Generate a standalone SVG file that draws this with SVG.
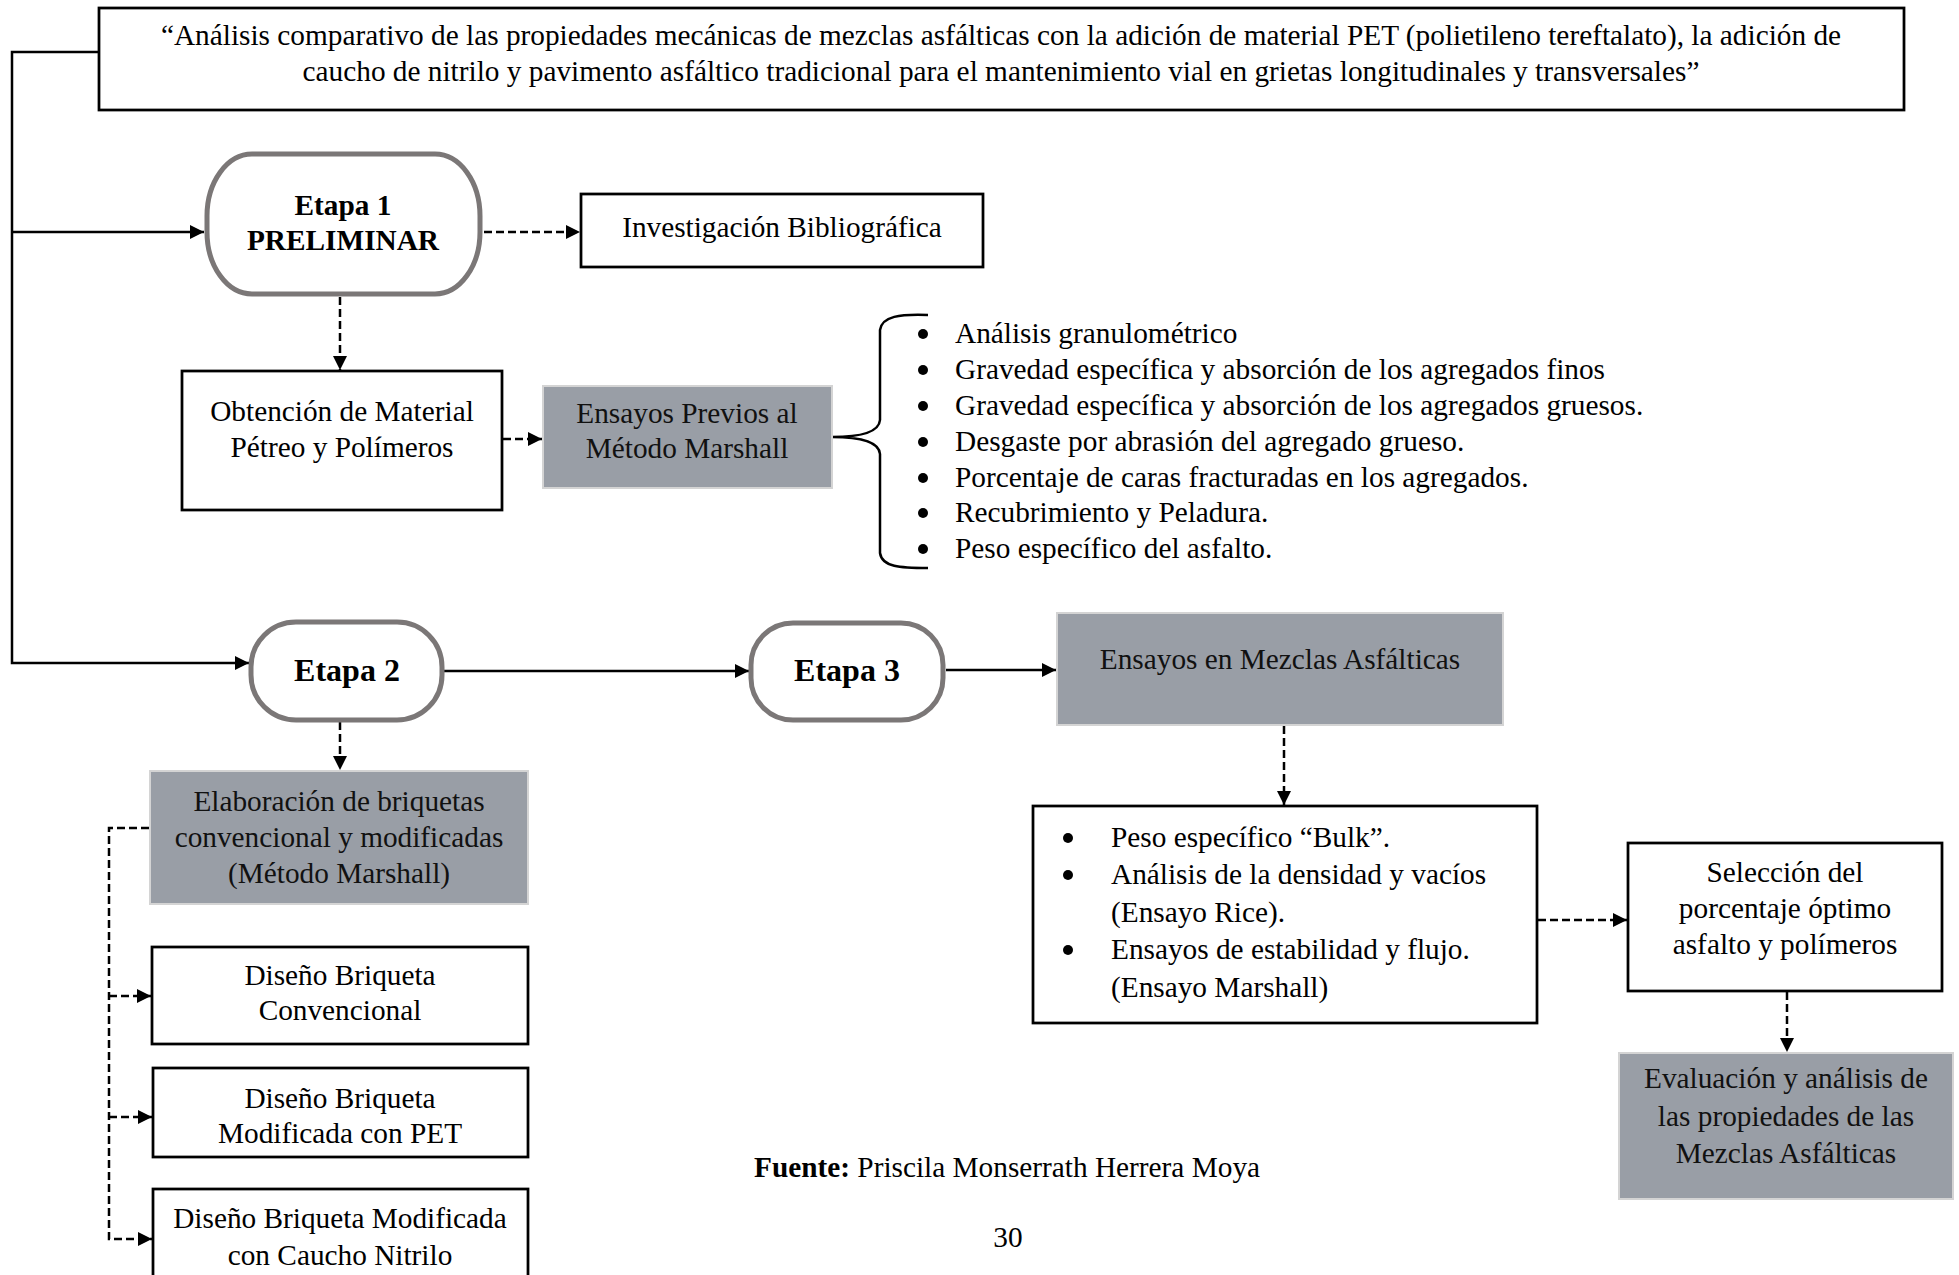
<svg xmlns="http://www.w3.org/2000/svg" width="1959" height="1275" viewBox="0 0 1959 1275">
<defs>
<style>
text{font-family:"Liberation Serif","Times New Roman",serif;font-size:29.3px;fill:#000}
.c{text-anchor:middle}
.b{font-weight:bold}
.big{font-size:32px}
.dot{fill:#000}
.box{fill:#fff;stroke:#000;stroke-width:2.75}
.gray{fill:#999ea6;stroke:#d4d4d4;stroke-width:2}
.gt{fill:#111}
.stage{fill:#fff;stroke:#7b7777;stroke-width:5}
.ln{fill:none;stroke:#000;stroke-width:2.5}
.dash{fill:none;stroke:#000;stroke-width:2.5;stroke-dasharray:8 4}
</style>
<marker id="ah" markerUnits="userSpaceOnUse" markerWidth="14" markerHeight="14" refX="14" refY="7" orient="auto">
<path d="M0,0 L14,7 L0,14 z" fill="#000"/>
</marker>
</defs>
<rect width="1959" height="1275" fill="#fff"/>

<g id="connectors">
<path class="ln" d="M99,52 H12 V663 H249" marker-end="url(#ah)"/>
<path class="ln" d="M12,232 H204" marker-end="url(#ah)"/>
<path class="dash" d="M484,232 H580" marker-end="url(#ah)"/>
<path class="dash" d="M340,297 V370" marker-end="url(#ah)"/>
<path class="dash" d="M503,439 H542" marker-end="url(#ah)"/>
<path class="ln" d="M928,315 C900,314 882,316 880,330 L880,420 C879,432 860,437 832,437 C860,437 879,442 880,454 L880,553 C882,567 900,568 928,568"/>
<path class="dash" d="M340,722 V770" marker-end="url(#ah)"/>
<path class="dash" d="M149,828 H109 V1239 H152" marker-end="url(#ah)"/>
<path class="dash" d="M109,996 H151" marker-end="url(#ah)"/>
<path class="dash" d="M109,1117 H152" marker-end="url(#ah)"/>
<path class="ln" d="M444,671 H749" marker-end="url(#ah)"/>
<path class="ln" d="M946,670 H1056" marker-end="url(#ah)"/>
<path class="dash" d="M1284,726 V805" marker-end="url(#ah)"/>
<path class="dash" d="M1538,920 H1627" marker-end="url(#ah)"/>
<path class="dash" d="M1787,992 V1052" marker-end="url(#ah)"/>
</g>

<g id="title">
<rect class="box" x="99" y="8" width="1805" height="102"/>
<text class="c" x="1001" y="45">“Análisis comparativo de las propiedades mecánicas de mezclas asfálticas con la adición de material PET (polietileno tereftalato), la adición de</text>
<text class="c" x="1001" y="81">caucho de nitrilo y pavimento asfáltico tradicional para el mantenimiento vial en grietas longitudinales y transversales”</text>
</g>

<g id="etapa1">
<rect class="stage" x="207" y="154" width="273" height="140" rx="45" ry="62"/>
<text class="c b" x="343" y="215">Etapa 1</text>
<text class="c b" x="343" y="250">PRELIMINAR</text>
</g>

<g id="investigacion">
<rect class="box" x="581" y="194" width="402" height="73"/>
<text class="c" x="782" y="237">Investigación Bibliográfica</text>
</g>

<g id="obtencion">
<rect class="box" x="182" y="371" width="320" height="139"/>
<text class="c" x="342" y="421">Obtención de Material</text>
<text class="c" x="342" y="457">Pétreo y Polímeros</text>
</g>

<g id="ensayos-previos">
<rect class="gray" x="543" y="386" width="289" height="102"/>
<text class="c gt" x="687" y="423">Ensayos Previos al</text>
<text class="c gt" x="687" y="458">Método Marshall</text>
</g>

<g id="lista-previos">
<circle class="dot" cx="923" cy="334" r="5"/><text x="955" y="343">Análisis granulométrico</text>
<circle class="dot" cx="923" cy="370" r="5"/><text x="955" y="379">Gravedad específica y absorción de los agregados finos</text>
<circle class="dot" cx="923" cy="406" r="5"/><text x="955" y="415">Gravedad específica y absorción de los agregados gruesos.</text>
<circle class="dot" cx="923" cy="442" r="5"/><text x="955" y="451">Desgaste por abrasión del agregado grueso.</text>
<circle class="dot" cx="923" cy="478" r="5"/><text x="955" y="487">Porcentaje de caras fracturadas en los agregados.</text>
<circle class="dot" cx="923" cy="513" r="5"/><text x="955" y="522">Recubrimiento y Peladura.</text>
<circle class="dot" cx="923" cy="549" r="5"/><text x="955" y="558">Peso específico del asfalto.</text>
</g>

<g id="etapa2">
<rect class="stage" x="251" y="622" width="191" height="98" rx="45" ry="45"/>
<text class="c b big" x="347" y="681">Etapa 2</text>
</g>

<g id="etapa3">
<rect class="stage" x="751" y="623" width="192" height="97" rx="42" ry="42"/>
<text class="c b big" x="847" y="681">Etapa 3</text>
</g>

<g id="ensayos-mezclas">
<rect class="gray" x="1057" y="613" width="446" height="112"/>
<text class="c gt" x="1280" y="669">Ensayos en Mezclas Asfálticas</text>
</g>

<g id="elaboracion">
<rect class="gray" x="150" y="771" width="378" height="133"/>
<text class="c gt" x="339" y="811">Elaboración de briquetas</text>
<text class="c gt" x="339" y="847">convencional y modificadas</text>
<text class="c gt" x="339" y="883">(Método Marshall)</text>
</g>

<g id="convencional">
<rect class="box" x="152" y="947" width="376" height="97"/>
<text class="c" x="340" y="985">Diseño Briqueta</text>
<text class="c" x="340" y="1020">Convencional</text>
</g>

<g id="pet">
<rect class="box" x="153" y="1068" width="375" height="89"/>
<text class="c" x="340" y="1108">Diseño Briqueta</text>
<text class="c" x="340" y="1143">Modificada con PET</text>
</g>

<g id="caucho">
<rect class="box" x="153" y="1189" width="375" height="100"/>
<text class="c" x="340" y="1228">Diseño Briqueta Modificada</text>
<text class="c" x="340" y="1265">con Caucho Nitrilo</text>
</g>

<g id="lista-mezclas">
<rect class="box" x="1033" y="806" width="504" height="217"/>
<circle class="dot" cx="1068" cy="838" r="5"/><text x="1111" y="847">Peso específico “Bulk”.</text>
<circle class="dot" cx="1068" cy="875" r="5"/><text x="1111" y="884">Análisis de la densidad y vacíos</text>
<text x="1111" y="922">(Ensayo Rice).</text>
<circle class="dot" cx="1068" cy="950" r="5"/><text x="1111" y="959">Ensayos de estabilidad y flujo.</text>
<text x="1111" y="997">(Ensayo Marshall)</text>
</g>

<g id="seleccion">
<rect class="box" x="1628" y="843" width="314" height="148"/>
<text class="c" x="1785" y="882">Selección del</text>
<text class="c" x="1785" y="918">porcentaje óptimo</text>
<text class="c" x="1785" y="954">asfalto y polímeros</text>
</g>

<g id="evaluacion">
<rect class="gray" x="1619" y="1053" width="334" height="146"/>
<text class="c gt" x="1786" y="1088">Evaluación y análisis de</text>
<text class="c gt" x="1786" y="1126">las propiedades de las</text>
<text class="c gt" x="1786" y="1163">Mezclas Asfálticas</text>
</g>

<g id="fuente">
<text x="754" y="1177"><tspan class="b">Fuente:</tspan> Priscila Monserrath Herrera Moya</text>
<text class="c" x="1008" y="1247">30</text>
</g>
</svg>
